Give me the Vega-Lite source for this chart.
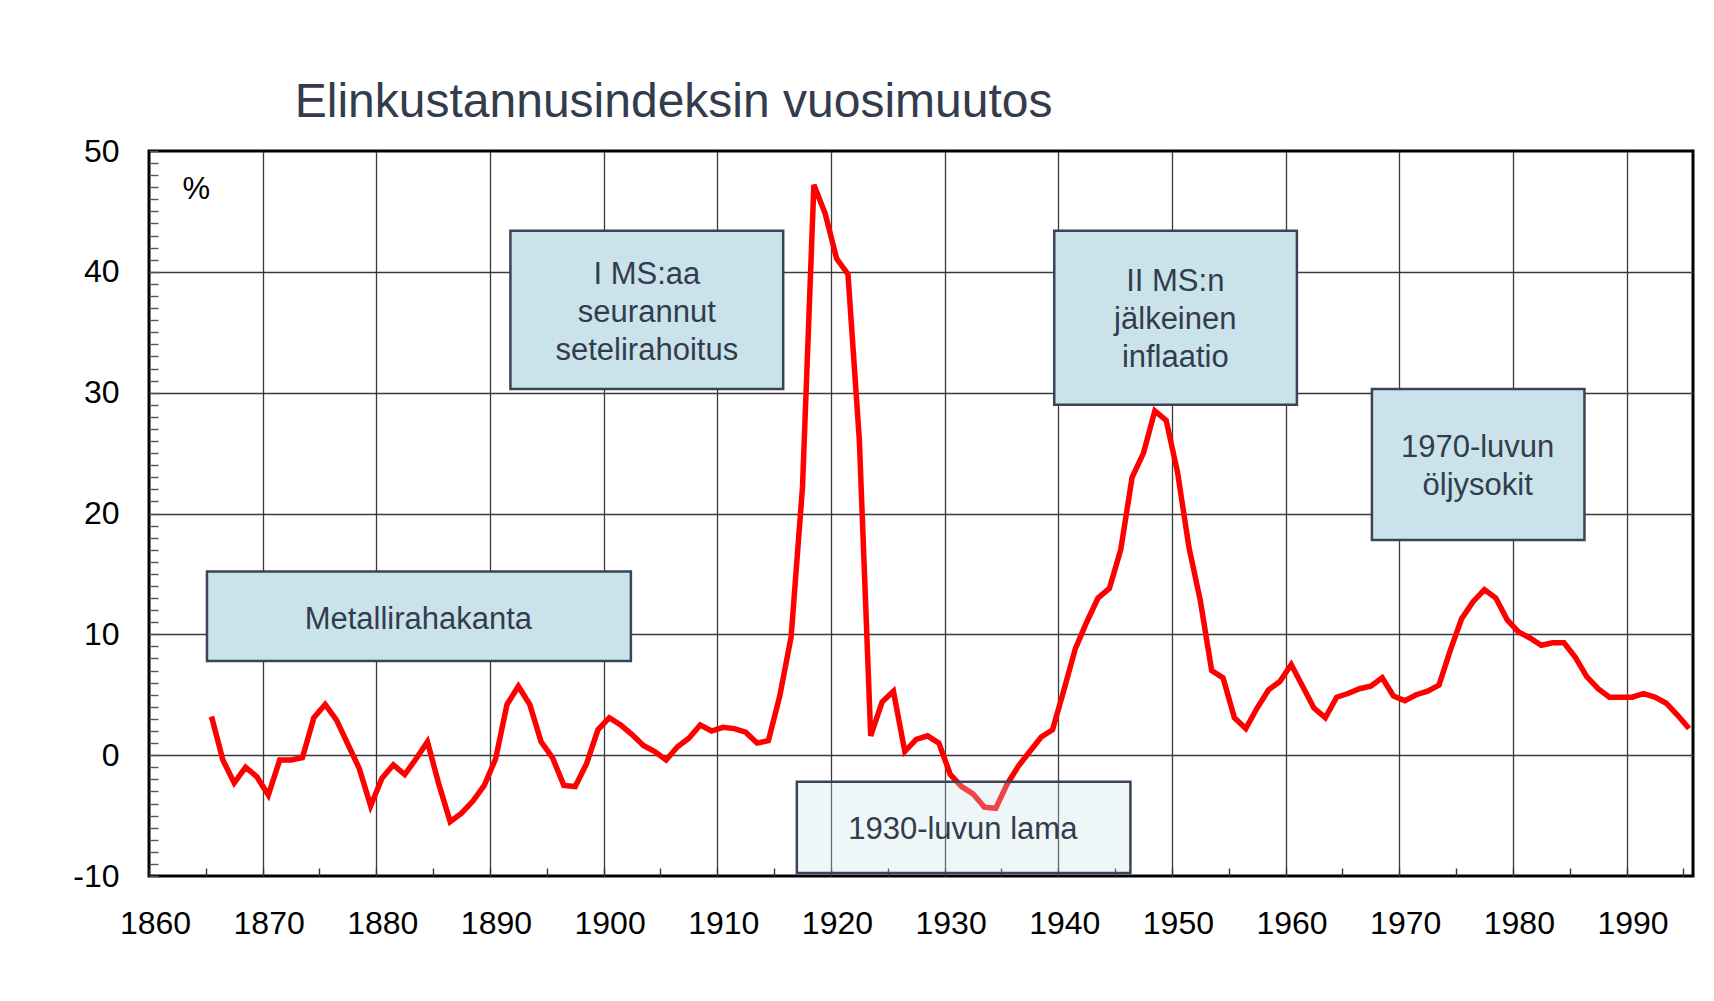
{
  "$schema": "https://vega.github.io/schema/vega-lite/v6.json",
  "width": 1544,
  "height": 725,
  "autosize": {"type": "none"},
  "padding": {"left": 149, "top": 151, "right": 21, "bottom": 125},
  "background": "#ffffff",
  "title": {
    "text": "Elinkustannusindeksin vuosimuutos",
    "anchor": "start",
    "dx": 222,
    "baseline": "alphabetic",
    "offset": -30,
    "font": "Liberation Sans",
    "fontSize": 48,
    "fontWeight": "normal",
    "color": "#333b4d"
  },
  "config": {
    "view": {"stroke": "#000000", "strokeWidth": 3},
    "font": "Liberation Sans"
  },
  "datasets": {
    "series": [
      {"year": 1865, "change": 3.2}, {"year": 1866, "change": -0.4}, {"year": 1867, "change": -2.3},
      {"year": 1868, "change": -1.0}, {"year": 1869, "change": -1.8}, {"year": 1870, "change": -3.3},
      {"year": 1871, "change": -0.4}, {"year": 1872, "change": -0.4}, {"year": 1873, "change": -0.2},
      {"year": 1874, "change": 3.1}, {"year": 1875, "change": 4.2}, {"year": 1876, "change": 2.9},
      {"year": 1877, "change": 0.9}, {"year": 1878, "change": -1.1}, {"year": 1879, "change": -4.2},
      {"year": 1880, "change": -1.9}, {"year": 1881, "change": -0.8}, {"year": 1882, "change": -1.6},
      {"year": 1883, "change": -0.3}, {"year": 1884, "change": 1.1}, {"year": 1885, "change": -2.4},
      {"year": 1886, "change": -5.5}, {"year": 1887, "change": -4.8}, {"year": 1888, "change": -3.8},
      {"year": 1889, "change": -2.5}, {"year": 1890, "change": -0.3}, {"year": 1891, "change": 4.2},
      {"year": 1892, "change": 5.7}, {"year": 1893, "change": 4.2}, {"year": 1894, "change": 1.1},
      {"year": 1895, "change": -0.2}, {"year": 1896, "change": -2.5}, {"year": 1897, "change": -2.6},
      {"year": 1898, "change": -0.7}, {"year": 1899, "change": 2.1}, {"year": 1900, "change": 3.1},
      {"year": 1901, "change": 2.5}, {"year": 1902, "change": 1.7}, {"year": 1903, "change": 0.8},
      {"year": 1904, "change": 0.3}, {"year": 1905, "change": -0.4}, {"year": 1906, "change": 0.7},
      {"year": 1907, "change": 1.4}, {"year": 1908, "change": 2.5}, {"year": 1909, "change": 2.0},
      {"year": 1910, "change": 2.3}, {"year": 1911, "change": 2.2}, {"year": 1912, "change": 1.9},
      {"year": 1913, "change": 1.0}, {"year": 1914, "change": 1.2}, {"year": 1915, "change": 4.9},
      {"year": 1916, "change": 9.8}, {"year": 1917, "change": 22.2}, {"year": 1918, "change": 47.2},
      {"year": 1919, "change": 44.8}, {"year": 1920, "change": 41.1}, {"year": 1921, "change": 39.8},
      {"year": 1922, "change": 26.1}, {"year": 1923, "change": 1.6}, {"year": 1924, "change": 4.4},
      {"year": 1925, "change": 5.3}, {"year": 1926, "change": 0.3}, {"year": 1927, "change": 1.3},
      {"year": 1928, "change": 1.6}, {"year": 1929, "change": 1.0}, {"year": 1930, "change": -1.6},
      {"year": 1931, "change": -2.6}, {"year": 1932, "change": -3.2}, {"year": 1933, "change": -4.3},
      {"year": 1934, "change": -4.4}, {"year": 1935, "change": -2.4}, {"year": 1936, "change": -0.9},
      {"year": 1937, "change": 0.3}, {"year": 1938, "change": 1.5}, {"year": 1939, "change": 2.1},
      {"year": 1940, "change": 5.4}, {"year": 1941, "change": 8.8}, {"year": 1942, "change": 11.0},
      {"year": 1943, "change": 13.0}, {"year": 1944, "change": 13.8}, {"year": 1945, "change": 17.0},
      {"year": 1946, "change": 23.0}, {"year": 1947, "change": 25.0}, {"year": 1948, "change": 28.5},
      {"year": 1949, "change": 27.7}, {"year": 1950, "change": 23.4}, {"year": 1951, "change": 17.2},
      {"year": 1952, "change": 12.8}, {"year": 1953, "change": 7.0}, {"year": 1954, "change": 6.4},
      {"year": 1955, "change": 3.1}, {"year": 1956, "change": 2.2}, {"year": 1957, "change": 3.9},
      {"year": 1958, "change": 5.4}, {"year": 1959, "change": 6.1}, {"year": 1960, "change": 7.5},
      {"year": 1961, "change": 5.7}, {"year": 1962, "change": 3.9}, {"year": 1963, "change": 3.1},
      {"year": 1964, "change": 4.8}, {"year": 1965, "change": 5.1}, {"year": 1966, "change": 5.5},
      {"year": 1967, "change": 5.7}, {"year": 1968, "change": 6.4}, {"year": 1969, "change": 4.9},
      {"year": 1970, "change": 4.5}, {"year": 1971, "change": 5.0}, {"year": 1972, "change": 5.3},
      {"year": 1973, "change": 5.8}, {"year": 1974, "change": 8.7}, {"year": 1975, "change": 11.3},
      {"year": 1976, "change": 12.7}, {"year": 1977, "change": 13.7}, {"year": 1978, "change": 13.0},
      {"year": 1979, "change": 11.2}, {"year": 1980, "change": 10.2}, {"year": 1981, "change": 9.7},
      {"year": 1982, "change": 9.1}, {"year": 1983, "change": 9.3}, {"year": 1984, "change": 9.3},
      {"year": 1985, "change": 8.1}, {"year": 1986, "change": 6.5}, {"year": 1987, "change": 5.5},
      {"year": 1988, "change": 4.8}, {"year": 1989, "change": 4.8}, {"year": 1990, "change": 4.8},
      {"year": 1991, "change": 5.1}, {"year": 1992, "change": 4.8}, {"year": 1993, "change": 4.3},
      {"year": 1994, "change": 3.3}, {"year": 1995, "change": 2.2}
    ],
    "notes": [
      {"id": "metal", "label": "Metallirahakanta", "start": 1865.1, "end": 1902.4, "low": 7.8, "high": 15.2, "textYear": 1883.7, "textValue": 11.22},
      {"id": "ms1", "label": ["I MS:aa", "seurannut", "setelirahoitus"], "start": 1891.8, "end": 1915.8, "low": 30.3, "high": 43.4, "textYear": 1903.8, "textValue": 39.7},
      {"id": "ms2", "label": ["II MS:n", "jälkeinen", "inflaatio"], "start": 1939.65, "end": 1961.0, "low": 29.0, "high": 43.4, "textYear": 1950.3, "textValue": 39.16},
      {"id": "oil", "label": ["1970-luvun", "öljysokit"], "start": 1967.6, "end": 1986.3, "low": 17.8, "high": 30.3, "textYear": 1976.9, "textValue": 25.42},
      {"id": "lama", "label": "1930-luvun lama", "start": 1917.0, "end": 1946.35, "low": -9.76, "high": -2.2, "textYear": 1931.6, "textValue": -6.22}
    ],
    "unit": [
      {"label": "%", "textYear": 1864.15, "textValue": 46.75}
    ]
  },
  "layer": [
    {
      "data": {"name": "series"},
      "mark": {"type": "line", "color": "#ff0000", "strokeWidth": 5.5, "xOffset": 5.68},
      "encoding": {
        "x": {
          "field": "year",
          "type": "quantitative",
          "title": null,
          "scale": {"domain": [1860, 1995.85], "nice": false, "zero": false},
          "axis": {
            "title": null,
            "values": [1860,1865,1870,1875,1880,1885,1890,1895,1900,1905,1910,1915,1920,1925,1930,1935,1940,1945,1950,1955,1960,1965,1970,1975,1980,1985,1990,1995],
            "tickCount": 200,
            "labelExpr": "datum.value % 10 === 0 ? '' + datum.value : ''",
            "domain": false,
            "grid": true,
            "gridColor": "#3a3a3a",
            "gridWidth": 1.3,
            "gridOpacity": {"condition": {"test": "datum.value % 10 === 0 && datum.value > 1860", "value": 1}, "value": 0},
            "ticks": true,
            "tickSize": -8,
            "tickColor": "#333333",
            "tickWidth": 1.4,
            "labelPadding": 40,
            "labelOffset": 6,
            "labelFlush": false,
            "labelOverlap": false,
            "labelFont": "Liberation Sans",
            "labelFontSize": 32,
            "labelColor": "#000000"
          }
        },
        "y": {
          "field": "change",
          "type": "quantitative",
          "title": null,
          "scale": {"domain": [-10, 50], "nice": false, "zero": false},
          "axis": {
            "title": null,
            "values": [-10,-9,-8,-7,-6,-5,-4,-3,-2,-1,0,1,2,3,4,5,6,7,8,9,10,11,12,13,14,15,16,17,18,19,20,21,22,23,24,25,26,27,28,29,30,31,32,33,34,35,36,37,38,39,40,41,42,43,44,45,46,47,48,49,50],
            "tickCount": 200,
            "labelExpr": "datum.value % 10 === 0 ? '' + datum.value : ''",
            "domain": false,
            "grid": true,
            "gridColor": "#3a3a3a",
            "gridWidth": 1.3,
            "gridOpacity": {"condition": {"test": "datum.value % 10 === 0 && datum.value > -10 && datum.value < 50", "value": 1}, "value": 0},
            "ticks": true,
            "tickSize": -9,
            "tickColor": "#555555",
            "tickWidth": 1.4,
            "labelPadding": 39,
            "labelFlush": false,
            "labelOverlap": false,
            "labelFont": "Liberation Sans",
            "labelFontSize": 32,
            "labelColor": "#000000"
          }
        }
      }
    },
    {
      "data": {"name": "notes"},
      "transform": [{"filter": "datum.id !== 'lama'"}],
      "mark": {"type": "rect", "fill": "#cae3ea", "stroke": "#3a4456", "strokeWidth": 2.5},
      "encoding": {
        "x": {"field": "start", "type": "quantitative", "title": null},
        "x2": {"field": "end"},
        "y": {"field": "high", "type": "quantitative", "title": null},
        "y2": {"field": "low"}
      }
    },
    {
      "data": {"name": "notes"},
      "transform": [{"filter": "datum.id === 'lama'"}],
      "mark": {"type": "rect", "fill": "#c6e0e7", "fillOpacity": 0.3, "stroke": "#3a4456", "strokeWidth": 2.5},
      "encoding": {
        "x": {"field": "start", "type": "quantitative", "title": null},
        "x2": {"field": "end"},
        "y": {"field": "high", "type": "quantitative", "title": null},
        "y2": {"field": "low"}
      }
    },
    {
      "data": {"name": "notes"},
      "mark": {"type": "text", "font": "Liberation Sans", "fontSize": 31, "color": "#333c4e", "lineHeight": 38, "align": "center", "baseline": "middle"},
      "encoding": {
        "x": {"field": "textYear", "type": "quantitative", "title": null},
        "y": {"field": "textValue", "type": "quantitative", "title": null},
        "text": {"field": "label"}
      }
    },
    {
      "data": {"name": "unit"},
      "mark": {"type": "text", "font": "Liberation Sans", "fontSize": 31, "color": "#000000", "align": "center", "baseline": "middle"},
      "encoding": {
        "x": {"field": "textYear", "type": "quantitative", "title": null},
        "y": {"field": "textValue", "type": "quantitative", "title": null},
        "text": {"field": "label"}
      }
    }
  ]
}
